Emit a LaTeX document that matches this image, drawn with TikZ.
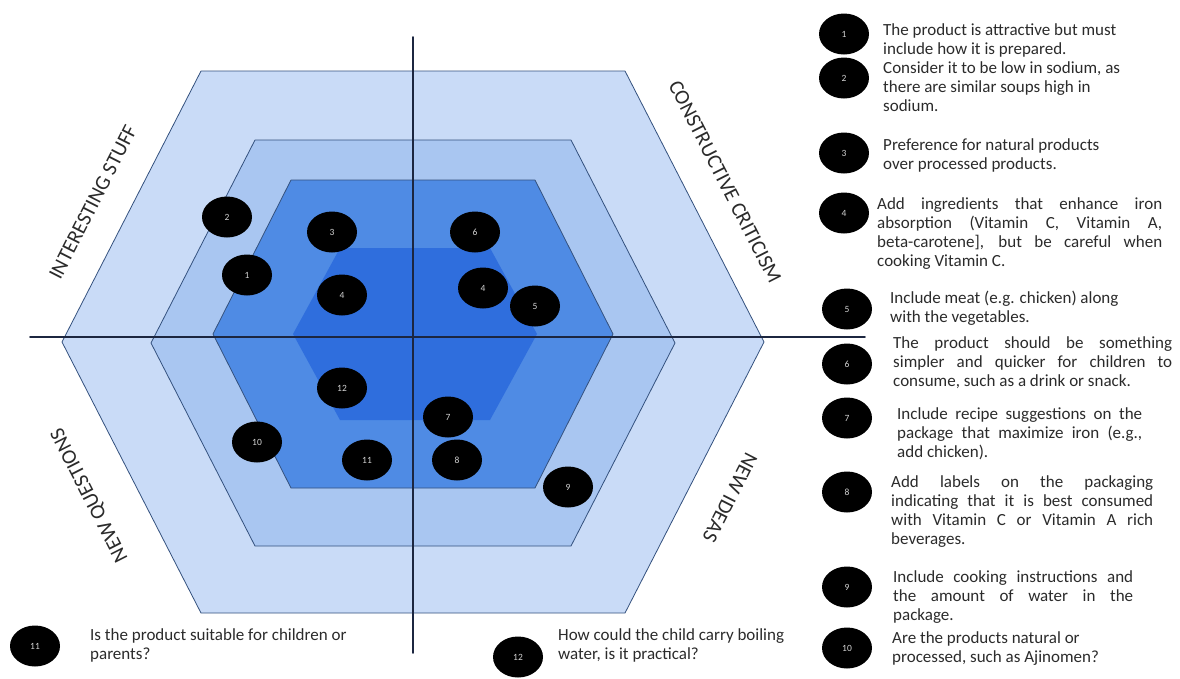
\documentclass[tikz,border=0pt]{standalone}
\usepackage{fontspec}
\setmainfont{Carlito}
\usetikzlibrary{shapes.geometric}
\definecolor{ink}{HTML}{1C2640}
\definecolor{edge}{HTML}{34517E}
\definecolor{band}{HTML}{C9DBF7}
\definecolor{ring}{HTML}{A9C6F1}
\definecolor{core}{HTML}{4F8BE4}
\definecolor{heart}{HTML}{2F6EDD}
\definecolor{digit}{HTML}{D4D4D4}
\definecolor{prose}{HTML}{2B2B2B}
\newcommand{\notesize}{\fontsize{17}{19}\selectfont}
\newcommand{\jline}[2]{\makebox[#1][s]{#2}}

\begin{document}
\begin{tikzpicture}[x=1pt,y=-1pt,line cap=round,line join=round,
  dot/.style={ellipse,fill=black,minimum width=50pt,minimum height=41pt,inner sep=0pt,text=digit,font=\fontsize{9.5}{9.5}\selectfont},
  note/.style={anchor=base west,align=left,inner sep=0pt,text=prose,font=\notesize},
  zone/.style={text=prose,font=\fontsize{21}{21}\selectfont}]
  \path[use as bounding box] (0,0) rectangle (1180,678);
  \fill[white] (0,0) rectangle (1180,678);

  % hexagon rings, outermost first
  \foreach \cx/\cy/\a/\b/\h/\col/\ed in {413/342/351/212/271/band/edge,413/343/262/158/203/ring/edge,413/334/200/122/154/core/edge,415/334/122/75/86/heart/none}{
    \filldraw[fill=\col,draw=\ed,line width=.8pt] (\cx-\a,\cy) -- (\cx-\b,\cy-\h) -- (\cx+\b,\cy-\h) -- (\cx+\a,\cy) -- (\cx+\b,\cy+\h) -- (\cx-\b,\cy+\h) -- cycle;
  }

  % axes
  \coordinate (west) at (30,337);
  \coordinate (east) at (865,337);
  \coordinate (north) at (413,37);
  \coordinate (south) at (413,653);
  \draw[ink,line width=1.8pt] (west) -- (east);
  \draw[ink,line width=1.8pt] (north) -- (south);

  \node[zone,rotate=63] (stuff) at (93,202) {INTERESTING STUFF};
  \node[zone,rotate=-63] (critic) at (725,182) {CONSTRUCTIVE CRITICISM};
  \node[zone,rotate=117] (quest) at (90,495) {NEW QUESTIONS};
  \node[zone,rotate=-117] (ideas) at (730,498) {NEW IDEAS};

  % points on the hexagon
  \foreach \id/\n/\x/\y in {a/2/227/217,b/3/332/232,c/1/247/275,d/4/342/295,e/6/475/232,f/4/483/288,g/5/535/306,h/12/342/388,i/10/257/442,j/11/367/460,k/7/448/417,m/8/457/460,n/9/568/487}
    \node[dot] (p\id) at (\x,\y) {\n};

  % legend (y = baseline of the last line)
  \foreach \n/\x/\y in {1/844/34,2/844/78,3/844/153,4/844/213,5/847/309,6/847/364,7/847/418,8/847/492,9/847/587,10/847/648,11/35/646,12/518/657}
    \node[dot] (l\n) at (\x,\y) {\n};

  \node[note] (t1) at (883,54.5) {The product is attractive but must\\include how it is prepared.};
  \node[note] (t2) at (883,111.5) {Consider it to be low in sodium, as\\there are similar soups high in\\sodium.};
  \node[note] (t3) at (883,169.5) {Preference for natural products\\over processed products.};
  \node[note] (t4) at (877,266) {\jline{285pt}{Add ingredients that enhance iron}\\\jline{285pt}{absorption (Vitamin C, Vitamin A,}\\\jline{285pt}{beta-carotene], but be careful when}\\cooking Vitamin C.};
  \node[note] (t5) at (890,322.5) {Include meat (e.g. chicken) along\\with the vegetables.};
  \node[note] (t6) at (893,386.5) {\jline{279pt}{The product should be something}\\\jline{279pt}{simpler and quicker for children to}\\consume, such as a drink or snack.};
  \node[note] (t7) at (897,457.5) {\jline{245pt}{Include recipe suggestions on the}\\\jline{245pt}{package that maximize iron (e.g.,}\\add chicken).};
  \node[note] (t8) at (891,544.5) {\jline{262pt}{Add labels on the packaging}\\\jline{262pt}{indicating that it is best consumed}\\\jline{262pt}{with Vitamin C or Vitamin A rich}\\beverages.};
  \node[note] (t9) at (893,620) {\jline{240pt}{Include cooking instructions and}\\\jline{240pt}{the amount of water in the}\\package.};
  \node[note] (t10) at (892,662.5) {Are the products natural or\\processed, such as Ajinomen?};
  \node[note] (t11) at (90,659.5) {Is the product suitable for children or\\parents?};
  \node[note] (t12) at (558,659.5) {How could the child carry boiling\\water, is it practical?};
\end{tikzpicture}
\end{document}
